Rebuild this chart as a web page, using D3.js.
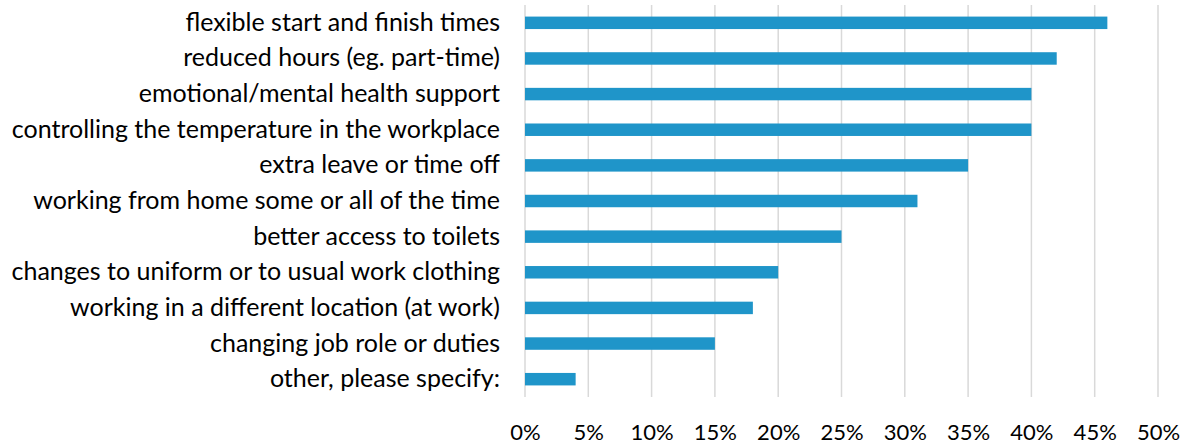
<!DOCTYPE html>
<html>
<head>
<meta charset="utf-8">
<script src="https://cdn.jsdelivr.net/npm/d3@7"></script>
<style>
  html, body { margin: 0; padding: 0; background: #fff; }
  svg { display: block; }
  text { font-family: Lato, "Open Sans", sans-serif; fill: #000; }
</style>
</head>
<body>
<div id="chart"></div>
<script>
// Workplace adjustments, share of respondents
const categories = [
  "flexible start and finish times",
  "reduced hours (eg. part-time)",
  "emotional/mental health support",
  "controlling the temperature in the workplace",
  "extra leave or time off",
  "working from home some or all of the time",
  "better access to toilets",
  "changes to uniform or to usual work clothing",
  "working in a different location (at work)",
  "changing job role or duties",
  "other, please specify:"
];
const values = [46, 42, 40, 40, 35, 31, 25, 20, 18, 15, 4];
const tickValues = [0, 5, 10, 15, 20, 25, 30, 35, 40, 45, 50];

const width = 1199, height = 446;
const margin = { top: 5, right: 41, bottom: 49, left: 525 };

const svg = d3.select("#chart").append("svg")
  .attr("width", width)
  .attr("height", height);

const x = d3.scaleLinear()
  .domain([0, 50])
  .range([margin.left, width - margin.right]);

const y = d3.scaleBand()
  .domain(categories)
  .range([margin.top, height - margin.bottom])
  .paddingInner(0.65)
  .paddingOuter(0.325);

// vertical gridlines
svg.append("g")
  .selectAll("line")
  .data(tickValues)
  .join("line")
  .attr("x1", d => x(d))
  .attr("x2", d => x(d))
  .attr("y1", margin.top)
  .attr("y2", height - margin.bottom)
  .attr("stroke", "#d9d9d9")
  .attr("stroke-width", 1.5);

// bars
svg.append("g")
  .selectAll("rect")
  .data(values)
  .join("rect")
  .attr("x", x(0))
  .attr("y", (d, i) => y(categories[i]))
  .attr("width", d => x(d) - x(0))
  .attr("height", y.bandwidth())
  .attr("fill", "#1f95c9");

// category labels
const yAxis = d3.axisLeft(y).tickSize(0).tickPadding(25);
svg.append("g")
  .attr("transform", `translate(${margin.left},0)`)
  .call(yAxis)
  .call(g => g.select(".domain").remove())
  .selectAll("text")
  .attr("font-family", "Lato, 'Open Sans', sans-serif")
  .attr("font-size", 25)
  .attr("fill", "#000");

// percentage axis
const xAxis = d3.axisBottom(x)
  .tickValues(tickValues)
  .tickFormat(d => d + "%")
  .tickSize(0)
  .tickPadding(27);
svg.append("g")
  .attr("transform", `translate(0,${height - margin.bottom})`)
  .call(xAxis)
  .call(g => g.select(".domain").remove())
  .selectAll("text")
  .attr("font-family", "Lato, 'Open Sans', sans-serif")
  .attr("font-size", 22)
  .attr("fill", "#000");
</script>
</body>
</html>
